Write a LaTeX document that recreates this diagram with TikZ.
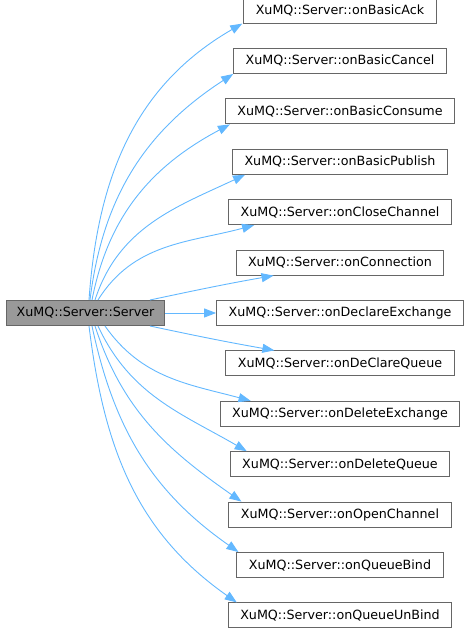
\documentclass[tikz,border=0pt]{standalone}
\usepackage{fontspec}
\setmainfont{DejaVu Sans}
\usetikzlibrary{arrows.meta, positioning}
\definecolor{edgeblue}{HTML}{63B8FF}
\definecolor{boxgray}{HTML}{666666}
\definecolor{rootfill}{HTML}{999999}
\tikzset{
    fnbox/.style={draw=boxgray, line width=1pt, fill=white, minimum height=25pt, inner xsep=12pt, font=\fontsize{12.7}{15}\selectfont},
    rootbox/.style={fnbox, fill=rootfill, inner xsep=10.5pt},
    call/.style={-{Triangle[length=12pt, width=9pt]}, edgeblue, line width=0.9pt}
}

\begin{document}
\begin{tikzpicture}[x=1pt, y=1pt, node distance=24.4pt]
    \useasboundingbox (0,0) rectangle (468,628);
    \node [rootbox] (server) at (85.5,315) {XuMQ::Server::Server};
    \node [fnbox] (declexch) at (340,315) {XuMQ::Server::onDeclareExchange};
    \node [fnbox, above=of declexch] (connection) {XuMQ::Server::onConnection};
    \node [fnbox, above=of connection] (closech) {XuMQ::Server::onCloseChannel};
    \node [fnbox, above=of closech] (publish) {XuMQ::Server::onBasicPublish};
    \node [fnbox, above=of publish] (consume) {XuMQ::Server::onBasicConsume};
    \node [fnbox, above=of consume] (cancel) {XuMQ::Server::onBasicCancel};
    \node [fnbox, above=of cancel] (ack) {XuMQ::Server::onBasicAck};
    \node [fnbox, below=of declexch] (declqueue) {XuMQ::Server::onDeClareQueue};
    \node [fnbox, below=of declqueue] (delexch) {XuMQ::Server::onDeleteExchange};
    \node [fnbox, below=of delexch] (delqueue) {XuMQ::Server::onDeleteQueue};
    \node [fnbox, below=of delqueue] (opench) {XuMQ::Server::onOpenChannel};
    \node [fnbox, below=of opench] (qbind) {XuMQ::Server::onQueueBind};
    \node [fnbox, below=of qbind] (qunbind) {XuMQ::Server::onQueueUnBind};

    \draw [call] ([xshift=3.5pt]server.north) to[out=86, in=210] ([xshift=-1pt]ack.south west);
    \draw [call] ([xshift=4.5pt]server.north) to[out=83, in=213] (cancel.south west);
    \draw [call] ([xshift=6.5pt]server.north) to[out=79, in=208] ([xshift=5pt]consume.south west);
    \draw [call] ([xshift=9.5pt]server.north) to[out=72, in=205] ([xshift=13pt]publish.south west);
    \draw [call] ([xshift=12.5pt]server.north) to[out=58, in=195] ([xshift=26pt]closech.south west);
    \draw [call] ([xshift=64.5pt]server.north) to[out=12, in=190] ([xshift=38pt]connection.south west);
    \draw [call] (server) -- (declexch);
    \draw [call] ([xshift=64.5pt]server.south) to[out=-12, in=170] ([xshift=49pt]declqueue.north west);
    \draw [call] ([xshift=19.5pt]server.south) to[out=-55, in=165] ([xshift=31pt]delexch.north west);
    \draw [call] ([xshift=12.5pt]server.south) to[out=-65, in=150] ([xshift=17pt]delqueue.north west);
    \draw [call] ([xshift=9.5pt]server.south) to[out=-72, in=145] ([xshift=13pt]opench.north west);
    \draw [call] ([xshift=6.5pt]server.south) to[out=-78, in=145] ([xshift=2pt]qbind.north west);
    \draw [call] ([xshift=3.5pt]server.south) to[out=-83, in=145] ([xshift=9pt]qunbind.north west);
\end{tikzpicture}
\end{document}
